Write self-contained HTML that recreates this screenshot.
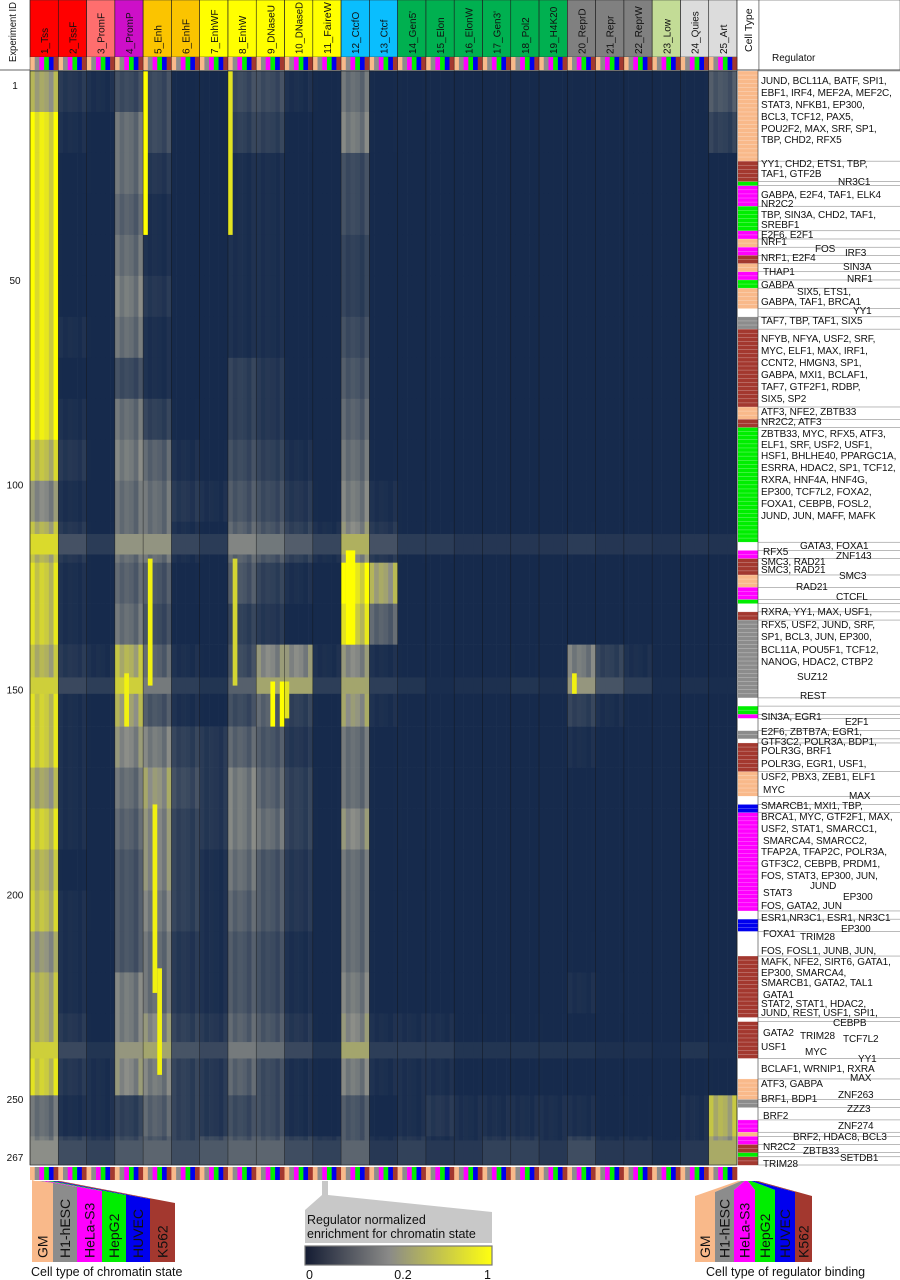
<!DOCTYPE html>
<html><head><meta charset="utf-8">
<style>
body{margin:0;background:#fff;}
#root{position:relative;width:900px;height:1280px;overflow:hidden;font-family:"Liberation Sans",Arial,sans-serif;}
svg{position:absolute;left:0;top:0;}
.lbl{position:absolute;font-size:10px;color:#111;white-space:nowrap;line-height:11px;letter-spacing:-0.1px;}
</style></head>
<body>
<div id="root">
<svg id="chart" width="900" height="1280"></svg>
<div id="labels"></div>
</div>
<script>
// ---------- DATA ----------
const states = ["1_Tss","2_TssF","3_PromF","4_PromP","5_Enh","6_EnhF","7_EnhWF","8_EnhW","9_DNaseU","10_DNaseD","11_FaireW","12_CtcfO","13_Ctcf","14_Gen5'","15_Elon","16_ElonW","17_Gen3'","18_Pol2","19_H4K20","20_ReprD","21_Repr","22_ReprW","23_Low","24_Quies","25_Art"];
const stateColors = ["#ff0000","#ff0000","#ff6e6e","#cd0fc8","#fbc400","#fbc400","#ffff00","#ffff00","#ffff00","#ffff00","#ffff00","#0abefe","#0abefe","#00b050","#00b050","#00b050","#00b050","#00b050","#00b050","#808080","#808080","#808080","#c3dc96","#dcdcdc","#dcdcdc"];
const cellTypes = ["GM","H1-hESC","HeLa-S3","HepG2","HUVEC","K562"];
const cellColors = ["#f9b98a","#8c8c8c","#ff00ff","#00ee00","#0000ee","#a3382f"];
const cellMul = [1.06,0.92,1.0,0.96,0.86,1.08];
const nRows = 267;
const blockSize = 10;
const v1  = [0.7,0.95,0.95,0.95,0.95,0.95,0.95,0.95,0.95,0.8,0.6,0.75,0.85,0.85,0.75,0.85,0.85,0.7,0.85,0.75,0.8,0.65,0.75,0.75,0.85,0.5,0.55];
const v2  = [0.25,0.2,0.15,0.15,0.15,0.15,0.2,0.15,0.2,0.25,0.2,0.25,0.2,0.2,0.25,0.2,0.2,0.2,0.2,0.15,0.2,0.2,0.2,0.25,0.25,0.2,0.3];
const v3  = [0.2,0.15,0.15,0.1,0.1,0.1,0.15,0.1,0.1,0.15,0.1,0.15,0.15,0.15,0.2,0.15,0.15,0.1,0.1,0.1,0.15,0.1,0.1,0.15,0.2,0.2,0.25];
const v4  = [0.35,0.5,0.5,0.45,0.5,0.55,0.5,0.35,0.5,0.55,0.5,0.5,0.45,0.5,0.75,0.7,0.6,0.5,0.45,0.4,0.4,0.4,0.55,0.55,0.6,0.3,0.35];
const v5  = [0.35,0.35,0.25,0.2,0.2,0.25,0.2,0.2,0.3,0.45,0.5,0.5,0.4,0.35,0.45,0.4,0.55,0.65,0.6,0.6,0.55,0.5,0.5,0.6,0.55,0.45,0.4];
const v6  = [0.15,0.1,0.1,0.1,0.1,0.1,0.1,0.1,0.15,0.2,0.25,0.2,0.15,0.1,0.2,0.2,0.3,0.35,0.3,0.3,0.3,0.25,0.25,0.3,0.3,0.3,0.3];
const v7  = [0.15,0.1,0.1,0.1,0.1,0.1,0.1,0.1,0.1,0.15,0.2,0.15,0.1,0.1,0.15,0.15,0.25,0.25,0.25,0.2,0.2,0.2,0.2,0.25,0.25,0.25,0.35];
const v8  = [0.35,0.3,0.2,0.2,0.2,0.2,0.2,0.3,0.3,0.35,0.4,0.45,0.4,0.3,0.35,0.35,0.45,0.55,0.55,0.5,0.45,0.4,0.4,0.45,0.45,0.35,0.4];
const v9  = [0.35,0.3,0.2,0.2,0.2,0.2,0.2,0.25,0.25,0.3,0.35,0.4,0.3,0.25,0.6,0.45,0.4,0.45,0.5,0.4,0.4,0.35,0.35,0.4,0.35,0.35,0.4];
const v10 = [0.2,0.15,0.1,0.1,0.1,0.1,0.1,0.15,0.15,0.2,0.25,0.3,0.2,0.15,0.6,0.3,0.25,0.3,0.3,0.25,0.25,0.2,0.2,0.25,0.2,0.2,0.3];
const v11 = [0.15,0.1,0.1,0.1,0.1,0.1,0.1,0.1,0.1,0.1,0.15,0.2,0.1,0.1,0.2,0.15,0.1,0.15,0.15,0.1,0.1,0.1,0.1,0.15,0.15,0.15,0.25];
const v12 = [0.5,0.55,0.35,0.35,0.3,0.3,0.35,0.4,0.45,0.5,0.55,0.6,0.95,0.85,0.6,0.65,0.5,0.5,0.6,0.5,0.5,0.5,0.55,0.6,0.55,0.4,0.4];
const v13 = [0.15,0.15,0.1,0.1,0.1,0.1,0.1,0.1,0.1,0.15,0.2,0.25,0.7,0.45,0.2,0.2,0.15,0.15,0.15,0.15,0.15,0.15,0.15,0.2,0.2,0.15,0.2];
const v14 = [0.15,0.1,0.1,0.1,0.1,0.1,0.1,0.1,0.1,0.1,0.15,0.15,0.1,0.1,0.15,0.15,0.15,0.15,0.15,0.1,0.15,0.15,0.15,0.2,0.2,0.2,0.25];
const v15 = [0.15,0.1,0.1,0.1,0.1,0.1,0.1,0.1,0.1,0.1,0.1,0.15,0.1,0.1,0.1,0.1,0.1,0.15,0.1,0.1,0.1,0.1,0.15,0.2,0.2,0.25,0.2];
const v16 = [0.12,0.1,0.1,0.1,0.1,0.1,0.1,0.1,0.1,0.1,0.1,0.12,0.1,0.1,0.12,0.1,0.1,0.12,0.1,0.1,0.1,0.1,0.12,0.15,0.15,0.2,0.2];
const v17 = [0.12,0.1,0.1,0.1,0.1,0.1,0.1,0.1,0.1,0.1,0.1,0.12,0.1,0.1,0.12,0.1,0.1,0.12,0.1,0.1,0.1,0.1,0.12,0.15,0.15,0.2,0.25];
const v18 = [0.12,0.1,0.1,0.1,0.1,0.1,0.1,0.1,0.1,0.1,0.12,0.12,0.1,0.1,0.15,0.12,0.12,0.12,0.12,0.1,0.12,0.12,0.12,0.15,0.15,0.2,0.25];
const v19 = [0.12,0.1,0.1,0.1,0.1,0.1,0.1,0.1,0.1,0.1,0.1,0.12,0.1,0.1,0.12,0.1,0.1,0.1,0.1,0.1,0.1,0.1,0.12,0.15,0.15,0.2,0.2];
const v20 = [0.15,0.1,0.1,0.1,0.1,0.1,0.1,0.1,0.1,0.1,0.1,0.15,0.1,0.1,0.55,0.3,0.2,0.15,0.15,0.15,0.1,0.15,0.2,0.15,0.15,0.2,0.3];
const v21 = [0.12,0.1,0.1,0.1,0.1,0.1,0.1,0.1,0.1,0.1,0.1,0.12,0.1,0.1,0.3,0.2,0.15,0.12,0.12,0.12,0.1,0.12,0.15,0.12,0.12,0.15,0.2];
const v22 = [0.12,0.1,0.1,0.1,0.1,0.1,0.1,0.1,0.1,0.1,0.1,0.12,0.1,0.1,0.2,0.15,0.12,0.1,0.1,0.1,0.1,0.1,0.12,0.12,0.12,0.15,0.2];
const v23 = [0.1,0.08,0.08,0.08,0.08,0.08,0.08,0.08,0.08,0.08,0.08,0.1,0.08,0.08,0.1,0.08,0.08,0.08,0.08,0.08,0.08,0.08,0.1,0.1,0.1,0.12,0.15];
const v24 = [0.15,0.1,0.1,0.1,0.1,0.1,0.1,0.1,0.1,0.1,0.1,0.12,0.1,0.1,0.12,0.1,0.1,0.1,0.1,0.1,0.1,0.1,0.12,0.15,0.15,0.2,0.2];
const v25 = [0.4,0.3,0.12,0.1,0.1,0.1,0.1,0.1,0.1,0.1,0.1,0.1,0.1,0.1,0.1,0.1,0.1,0.1,0.1,0.1,0.1,0.1,0.1,0.1,0.15,0.75,0.65];
const stateValues = [v1,v2,v3,v4,v5,v6,v7,v8,v9,v10,v11,v12,v13,v14,v15,v16,v17,v18,v19,v20,v21,v22,v23,v24,v25];
// [stateIndex, cellTypeIndex, firstRow, lastRow, value]
const hotCells = [[4,0,1,40,1.0],[4,1,120,150,0.95],[4,2,180,225,0.95],[4,3,220,245,0.95],[7,0,1,40,0.9],[7,1,120,150,0.85],[8,3,150,160,1.0],[8,5,150,160,1.0],[9,0,150,158,0.9],[19,1,148,152,0.95],[11,1,118,140,1.0],[11,2,118,140,1.0],[3,2,148,160,0.95]];
// [firstRow, lastRow, boost]
const rowBoost = [[114,118,0.12],[149,152,0.08],[238,241,0.08],[262,267,0.05]];
const yTicks = [1,50,100,150,200,250,267];
const regCellType = [[1,22,0],[23,27,5],[28,28,3],[29,33,2],[34,39,3],[40,41,2],[42,43,0],[44,45,2],[46,47,5],[48,49,0],[50,51,2],[52,53,3],[54,58,0],[59,60,-1],[61,63,1],[64,82,5],[83,85,0],[86,87,5],[88,115,3],[116,117,-1],[118,119,2],[120,123,5],[124,126,0],[127,129,2],[130,130,3],[131,132,-1],[133,134,5],[135,153,1],[154,155,-1],[156,157,3],[158,158,2],[159,161,-1],[162,163,1],[164,164,-1],[165,171,5],[172,177,0],[178,179,-1],[180,181,4],[182,205,2],[206,207,-1],[208,210,4],[211,216,-1],[217,231,5],[232,232,-1],[233,241,5],[242,246,-1],[247,251,0],[252,253,1],[254,256,-1],[257,259,2],[260,260,0],[261,262,2],[263,264,5],[265,265,3],[266,267,5]];

// ---------- GEOMETRY ----------
const X0=30, W=707, Y0=71, H=1094;
const colW = W/(states.length*6);
const rowH = H/nRows;
const xCol = (s,c)=> X0 + (s*6+c)*colW;
const yRow = r => Y0 + (r-1)*rowH;
function color(v){
  v=Math.max(0,Math.min(1,v));
  const a=[22,42,76], m=[140,142,136], b=[255,255,0];
  let c;
  if(v<0.15) c=a;
  else if(v<0.6){const t=Math.pow((v-0.15)/0.45,1.3);c=a.map((x,i)=>x+(m[i]-x)*t);}
  else{const t=(v-0.6)/0.4;c=m.map((x,i)=>x+(b[i]-x)*t);}
  return `rgb(${c.map(Math.round).join(',')})`;
}
const NS="http://www.w3.org/2000/svg";
const svg=document.getElementById('chart');
function mk(tag,attrs,parent){const e=document.createElementNS(NS,tag);for(const k in attrs)e.setAttribute(k,attrs[k]);(parent||svg).appendChild(e);return e;}

const gHead=mk('g',{});


states.forEach((s,i)=>{
  const x=X0+i*6*colW;
  const r=mk('rect',{x:x,y:0,width:6*colW,height:57,fill:stateColors[i],stroke:'#333','stroke-width':0.5},gHead);
  
  
  const attrs={x:0,y:0,'font-size':10,fill:'#111','font-family':'Liberation Sans, Arial, sans-serif',transform:`translate(${x+3*colW+4},54) rotate(-90)`};
  if(s.length>8){attrs.textLength=52;attrs.lengthAdjust='spacingAndGlyphs';}
  const t=mk('text',attrs,gHead);
  t.textContent=s;
  
  
});
mk('rect',{x:737,y:0,width:22,height:70,fill:'#fff',stroke:'#333','stroke-width':0.5});
const ctt=mk('text',{x:0,y:0,'font-size':10.5,fill:'#111',transform:'translate(752,52) rotate(-90)'});
ctt.textContent='Cell Type';


mk('rect',{x:759,y:0,width:141,height:70,fill:'#fff',stroke:'#333','stroke-width':0.5});
const rgt=mk('text',{x:772,y:61,'font-size':10,fill:'#111'});
rgt.textContent='Regulator';


const eid=mk('text',{x:0,y:0,'font-size':10,fill:'#111',transform:'translate(16,62) rotate(-90)',textLength:60,lengthAdjust:'spacingAndGlyphs'});
eid.textContent='Experiment ID';


mk('line',{x1:0,y1:70,x2:900,y2:70,stroke:'#333','stroke-width':0.7});

[57,1167].forEach((yy,k)=>{
  const g=mk('g',{});
  
  
  for(let s=0;s<states.length;s++)for(let c=0;c<6;c++){
    mk('rect',{x:xCol(s,c),y:yy,width:colW+0.3,height:13,fill:cellColors[c]},g);
  }
});

const gHm=mk('g',{});


for(let s=0;s<states.length;s++){
  const vals=stateValues[s];
  for(let b=0;b<vals.length;b++){
    const r0=b*blockSize+1, r1=Math.min(nRows,r0+blockSize-1);
    for(let c=0;c<6;c++){
      const cell=mk('rect',{x:xCol(s,c),y:yRow(r0),width:colW+0.3,height:(r1-r0+1)*rowH+0.3,fill:color(vals[b]*cellMul[c])},gHm);
      
      
    }
  }
}
rowBoost.forEach(([a,b2,v])=>{
  for(let s=0;s<states.length;s++){
    const vals=stateValues[s];
    const base=vals[Math.floor((a-1)/blockSize)];
    const band=mk('rect',{x:xCol(s,0),y:yRow(a),width:6*colW,height:(b2-a+1)*rowH,fill:color(base+v)},gHm);
    
    
  }
});
hotCells.forEach(([s,c,a,b2,v])=>{
  const hc=mk('rect',{x:xCol(s,c),y:yRow(a),width:colW,height:(b2-a+1)*rowH,fill:color(v)},gHm);
  
  
});
for(let s=0;s<=states.length;s++){
  mk('line',{x1:X0+s*6*colW,y1:0,x2:X0+s*6*colW,y2:Y0+H,stroke:'#111','stroke-width':0.6,'stroke-opacity':0.7});
}
mk('rect',{x:X0,y:Y0,width:W,height:H,fill:'none',stroke:'#222','stroke-width':0.6});
yTicks.forEach(r=>{
  const t=mk('text',{x:15,y:r===1?89:yRow(r)+(r===267?0:12),'font-size':10,'text-anchor':'middle',fill:'#111'});
  t.textContent=r;
  
  
});

const gCT=mk('g',{});


regCellType.forEach(([a,b2,c])=>{
  mk('rect',{x:738,y:yRow(a),width:20,height:(b2-a+1)*rowH+0.2,fill:c<0?'#fff':cellColors[c]},gCT);
});
for(let r=1;r<=nRows;r++) mk('line',{x1:738,x2:758,y1:yRow(r),y2:yRow(r),stroke:'#fff','stroke-width':0.4,'stroke-opacity':0.6},gCT);
mk('line',{x1:758,y1:70,x2:758,y2:1165,stroke:'#333','stroke-width':0.6});
regCellType.forEach(([a])=>{
  mk('line',{x1:758,x2:900,y1:yRow(a),y2:yRow(a),stroke:'#777','stroke-width':0.5});
});
mk('line',{x1:758,x2:900,y1:1165,y2:1165,stroke:'#777','stroke-width':0.5});

function fan(boxX, topYs, sx0, sx1, name){
  const g=mk('g',{});
  
  
  const n=cellTypes.length, sw=(sx1-sx0)/n;
  for(let i=0;i<n;i++){
    const bx0=boxX[i], bx1=boxX[i+1];
    mk('polygon',{points:`${sx0+i*sw},1181 ${sx0+(i+1)*sw},1181 ${bx1},${topYs[i+1]} ${bx1},1262 ${bx0},1262 ${bx0},${topYs[i]}`,fill:cellColors[i]},g);
    const t=mk('text',{x:0,y:0,'font-size':14,fill:'#111',transform:`translate(${(bx0+bx1)/2+5},1258) rotate(-90)`},g);
    t.textContent=cellTypes[i];
  }
  return g;
}
fan([32,53,77,102,126,150,175],[1180,1183,1187,1191,1195,1199,1203],35,60,'chromatin-state-cell-type-legend');
fan([695,715,734,755,775,795,812],[1196,1192,1190,1190,1190,1192,1196],738,758,'regulator-cell-type-legend');
const l1=mk('text',{x:31,y:1276,'font-size':12.5,fill:'#111'});l1.textContent='Cell type of chromatin state';


const l2=mk('text',{x:706,y:1276,'font-size':12.5,fill:'#111'});l2.textContent='Cell type of regulator binding';


const gCB=mk('g',{});


mk('polygon',{points:'322,1181 328,1181 328,1195 492,1212 492,1243 305,1243 305,1210 322,1195',fill:'#c8c8c8'},gCB);
const ct1=mk('text',{x:307,y:1224,'font-size':12.5,fill:'#111'},gCB);ct1.textContent='Regulator normalized';
const ct2=mk('text',{x:307,y:1238,'font-size':12.5,fill:'#111'},gCB);ct2.textContent='enrichment for chromatin state';
const defs=mk('defs',{});
const lg=mk('linearGradient',{id:'cbg',x1:0,x2:1,y1:0,y2:0},defs);
mk('stop',{offset:'0','stop-color':'#141c33'},lg);
mk('stop',{offset:'0.45','stop-color':'#8a8a88'},lg);
mk('stop',{offset:'1','stop-color':'#ffff10'},lg);
mk('rect',{x:305,y:1246,width:187,height:19,fill:'url(#cbg)',stroke:'#777','stroke-width':1.2},gCB);
[['0',306,'start'],['0.2',403,'middle'],['1',491,'end']].forEach(([t,x,a])=>{
  const e=mk('text',{x:x,y:1279,'font-size':12.5,'text-anchor':a,fill:'#111'},gCB);e.textContent=t;
});

const regLabels=[
[82,761,"JUND, BCL11A, BATF, SPI1,"],[94,761,"EBF1, IRF4, MEF2A, MEF2C,"],[106,761,"STAT3, NFKB1, EP300,"],[118,761,"BCL3, TCF12, PAX5,"],[130,761,"POU2F2, MAX, SRF, SP1,"],[141,761,"TBP, CHD2, RFX5"],
[165,761,"YY1, CHD2, ETS1, TBP,"],[175,761,"TAF1, GTF2B"],[183,838,"NR3C1"],[196,761,"GABPA, E2F4, TAF1, ELK4"],[205,761,"NR2C2"],[216,761,"TBP, SIN3A, CHD2, TAF1,"],[226,761,"SREBF1"],[236,761,"E2F6, E2F1"],[243,761,"NRF1"],[250,815,"FOS"],[254,845,"IRF3"],[259,761,"NRF1, E2F4"],[268,843,"SIN3A"],[273,763,"THAP1"],[280,847,"NRF1"],[286,761,"GABPA"],[293,797,"SIX5, ETS1,"],[303,761,"GABPA, TAF1, BRCA1"],[312,853,"YY1"],[322,761,"TAF7, TBP, TAF1, SIX5"],
[340,761,"NFYB, NFYA, USF2, SRF,"],[352,761,"MYC, ELF1, MAX, IRF1,"],[364,761,"CCNT2, HMGN3, SP1,"],[376,761,"GABPA, MXI1, BCLAF1,"],[388,761,"TAF7, GTF2F1, RDBP,"],[400,761,"SIX5, SP2"],[413,761,"ATF3, NFE2, ZBTB33"],[423,761,"NR2C2, ATF3"],
[435,761,"ZBTB33, MYC, RFX5, ATF3,"],[446,761,"ELF1, SRF, USF2, USF1,"],[457,761,"HSF1, BHLHE40, PPARGC1A,"],[469,761,"ESRRA, HDAC2, SP1, TCF12,"],[481,761,"RXRA, HNF4A, HNF4G,"],[493,761,"EP300, TCF7L2, FOXA2,"],[505,761,"FOXA1, CEBPB, FOSL2,"],[517,761,"JUND, JUN, MAFF, MAFK"],
[547,800,"GATA3, FOXA1"],[553,763,"RFX5"],[557,836,"ZNF143"],[563,761,"SMC3, RAD21"],[571,761,"SMC3, RAD21"],[577,839,"SMC3"],[588,796,"RAD21"],[598,836,"CTCFL"],
[613,761,"RXRA, YY1, MAX, USF1,"],[626,761,"RFX5, USF2, JUND, SRF,"],[638,761,"SP1, BCL3, JUN, EP300,"],[651,761,"BCL11A, POU5F1, TCF12,"],[663,761,"NANOG, HDAC2, CTBP2"],[678,797,"SUZ12"],[697,800,"REST"],[718,761,"SIN3A, EGR1"],[723,845,"E2F1"],
[733,761,"E2F6, ZBTB7A, EGR1,"],[743,761,"GTF3C2, POLR3A, BDP1,"],[752,761,"POLR3G, BRF1"],[765,761,"POLR3G, EGR1, USF1,"],[778,761,"USF2, PBX3, ZEB1, ELF1"],[791,763,"MYC"],[797,849,"MAX"],
[807,761,"SMARCB1, MXI1, TBP,"],[818,761,"BRCA1, MYC, GTF2F1, MAX,"],[830,761,"USF2, STAT1, SMARCC1,"],[842,763,"SMARCA4, SMARCC2,"],[853,761,"TFAP2A, TFAP2C, POLR3A,"],[865,761,"GTF3C2, CEBPB, PRDM1,"],[877,761,"FOS, STAT3, EP300, JUN,"],[887,810,"JUND"],[894,763,"STAT3"],[898,843,"EP300"],[907,761,"FOS, GATA2, JUN"],[919,761,"ESR1,NR3C1, ESR1, NR3C1"],[930,841,"EP300"],[935,763,"FOXA1"],[938,800,"TRIM28"],
[952,761,"FOS, FOSL1, JUNB, JUN,"],[963,761,"MAFK, NFE2, SIRT6, GATA1,"],[974,761,"EP300, SMARCA4,"],[984,761,"SMARCB1, GATA2, TAL1"],[996,763,"GATA1"],[1005,761,"STAT2, STAT1, HDAC2,"],[1014,761,"JUND, REST, USF1, SPI1,"],[1024,833,"CEBPB"],[1034,763,"GATA2"],[1037,800,"TRIM28"],[1040,843,"TCF7L2"],[1048,761,"USF1"],[1053,805,"MYC"],[1060,858,"YY1"],[1070,761,"BCLAF1, WRNIP1, RXRA"],[1079,850,"MAX"],[1085,761,"ATF3, GABPA"],[1096,838,"ZNF263"],[1100,761,"BRF1, BDP1"],[1110,847,"ZZZ3"],[1117,763,"BRF2"],[1127,838,"ZNF274"],[1138,793,"BRF2, HDAC8, BCL3"],[1148,763,"NR2C2"],[1152,803,"ZBTB33"],[1159,840,"SETDB1"],[1165,763,"TRIM28"]
];
const lab=document.getElementById('labels');
regLabels.forEach(([y,x,t])=>{
  const d=document.createElement('div');
  d.className='lbl';
  d.style.left=x+'px';d.style.top=(y-6)+'px';
  d.textContent=t;
  
  
  lab.appendChild(d);
});
</script>
</body></html>
